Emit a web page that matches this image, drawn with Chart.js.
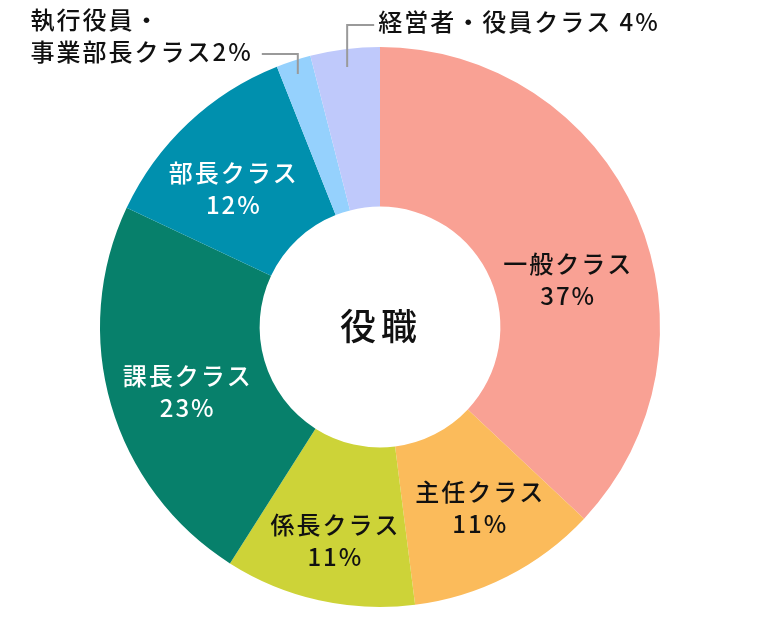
<!DOCTYPE html>
<html lang="ja">
<head>
<meta charset="utf-8">
<title>役職</title>
<script src="https://cdn.jsdelivr.net/npm/chart.js@4/dist/chart.umd.min.js"></script>
<style>
  html, body { margin: 0; padding: 0; background: #fff; }
  #wrap { width: 760px; height: 620px; }
</style>
</head>
<body>
<div id="wrap"><canvas id="roleChart" width="760" height="620"></canvas></div>
<script>
const categories = [
  "一般クラス",
  "主任クラス",
  "係長クラス",
  "課長クラス",
  "部長クラス",
  "執行役員・事業部長クラス",
  "経営者・役員クラス"
];
const shares = [37, 11, 11, 23, 12, 2, 4];
const centerTitle = "役職";

const sliceColors = ["#f9a194", "#fbbb5b", "#cdd338", "#07806b", "#0090ae", "#95d1fd", "#bfc9fb"];
const textColors = ["#111", "#111", "#111", "#fff", "#fff", "#111", "#111"];

// where inside labels sit: fraction along the slice, distance from centre
const labelFrac = [0.57, 0.45, 0.48, 0.47, 0.42];
const labelRad = [194, 207, 218, 203, 201];

const FONT = '"Noto Sans CJK JP", "Noto Sans", sans-serif';

const labelPlugin = {
  id: "sliceLabels",
  afterDatasetsDraw(chart) {
    const c = chart.ctx;
    const arcs = chart.getDatasetMeta(0).data;
    c.save();
    c.textAlign = "center";
    c.textBaseline = "middle";
    c.font = "500 24px " + FONT;
    c.letterSpacing = "2px";

    // labels inside the ring
    for (let i = 0; i < 5; i++) {
      const a = arcs[i];
      const ang = a.startAngle + (a.endAngle - a.startAngle) * labelFrac[i];
      const x = a.x + Math.cos(ang) * labelRad[i];
      const y = a.y + Math.sin(ang) * labelRad[i];
      c.fillStyle = textColors[i];
      c.fillText(categories[i], x, y - 16);
      c.fillText(shares[i] + "%", x, y + 16);
    }

    // small slices: leader lines + labels outside
    c.strokeStyle = "#9a9a9a";
    c.lineWidth = 2;
    c.fillStyle = "#111";

    let a = arcs[6];
    let ang = (a.startAngle + a.endAngle) / 2;
    let sx = a.x + Math.cos(ang) * (a.outerRadius - 18);
    let sy = a.y + Math.sin(ang) * (a.outerRadius - 18);
    c.beginPath();
    c.moveTo(sx, sy);
    c.lineTo(sx, 25);
    c.lineTo(sx + 27, 25);
    c.stroke();
    c.textAlign = "left";
    c.fillText(categories[6] + " " + shares[6] + "%", sx + 31, 22);

    a = arcs[5];
    ang = (a.startAngle + a.endAngle) / 2;
    sx = a.x + Math.cos(ang) * (a.outerRadius - 14);
    sy = a.y + Math.sin(ang) * (a.outerRadius - 14);
    c.beginPath();
    c.moveTo(sx, sy);
    c.lineTo(sx, 54);
    c.lineTo(sx - 36, 54);
    c.stroke();
    const line1 = categories[5].slice(0, 5);
    const line2 = categories[5].slice(5) + shares[5] + "%";
    const w2 = c.measureText(line2).width;
    const left = sx - 36 - 9 - w2;
    c.fillText(line1, left, 20);
    c.fillText(line2, left, 52);

    // centre title
    c.textAlign = "center";
    c.font = "500 36px " + FONT;
    c.letterSpacing = "5px";
    c.fillText(centerTitle, a.x + 1, a.y - 1);
    c.restore();
  }
};

new Chart(document.getElementById("roleChart"), {
  type: "doughnut",
  data: {
    labels: categories,
    datasets: [{
      data: shares,
      backgroundColor: sliceColors,
      borderWidth: 0,
      hoverOffset: 0
    }]
  },
  options: {
    responsive: false,
    animation: false,
    cutout: "43%",
    layout: { padding: { top: 47, bottom: 13, left: 100, right: 100 } },
    plugins: {
      legend: { display: false },
      tooltip: { enabled: false }
    }
  },
  plugins: [labelPlugin]
});
</script>
</body>
</html>
